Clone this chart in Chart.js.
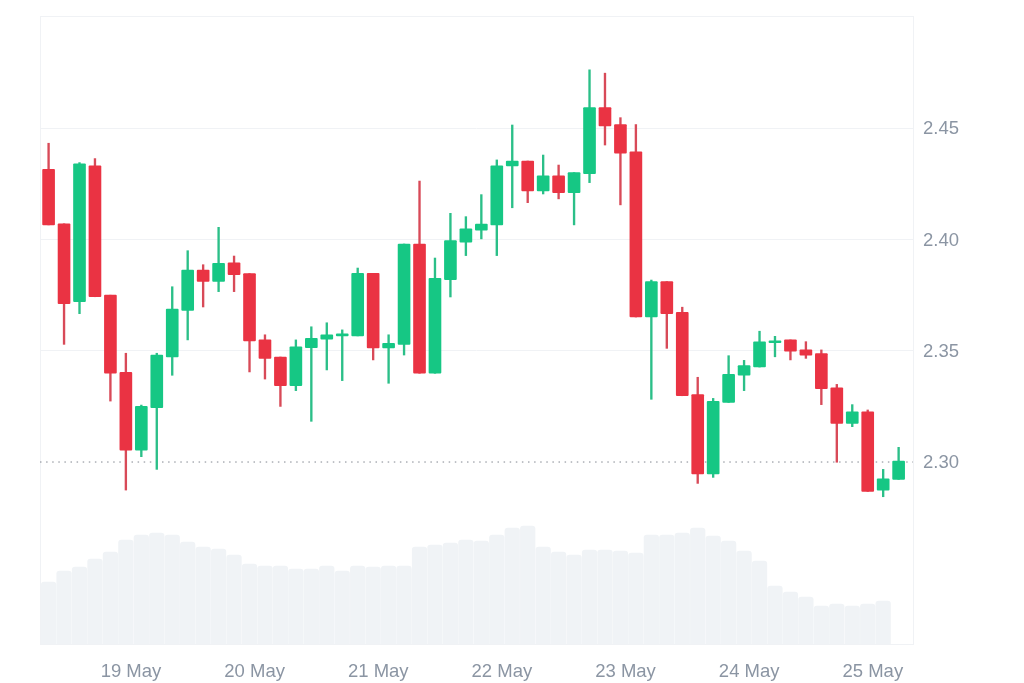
<!DOCTYPE html>
<html>
<head>
<meta charset="utf-8">
<style>
html,body{margin:0;padding:0;background:#fff;overflow:hidden;}
#wrap{width:1024px;height:683px;position:relative;}
canvas{display:block;}
</style>
<script src="https://cdn.jsdelivr.net/npm/chart.js@4/dist/chart.umd.min.js"></script>
</head>
<body>
<div id="wrap"><canvas id="c" width="1024" height="683"></canvas></div>
<script>
const opens=[2.4316,2.4071,2.3721,2.4332,2.3750,2.3403,2.3053,2.3244,2.3473,2.3682,2.3863,2.3812,2.3895,2.3847,2.3549,2.3472,2.3343,2.3514,2.3552,2.3567,2.3567,2.3848,2.3513,2.3529,2.3980,2.3399,2.3820,2.3988,2.4042,2.4066,2.4331,2.4353,2.4219,2.4286,2.4211,2.4296,2.4593,2.4517,2.4394,2.3652,2.3811,2.3673,2.3303,2.2946,2.3268,2.3390,2.3427,2.3536,2.3549,2.3504,2.3487,2.3334,2.3174,2.3226,2.2874,2.2922];
const closes=[2.4066,2.3712,2.4340,2.3743,2.3399,2.3053,2.3250,2.3481,2.3688,2.3863,2.3812,2.3893,2.3842,2.3544,2.3466,2.3343,2.3518,2.3556,2.3572,2.3576,2.3848,2.3513,2.3534,2.3980,2.3399,2.3826,2.3995,2.4048,2.4070,2.4331,2.4353,2.4219,2.4286,2.4211,2.4301,2.4593,2.4511,2.4388,2.3652,2.3811,2.3667,2.3298,2.2946,2.3273,2.3394,2.3433,2.3540,2.3545,2.3498,2.3480,2.3330,2.3174,2.3226,2.2868,2.2925,2.3004];
const highs=[2.4433,2.4071,2.4346,2.4364,2.3750,2.3489,2.3256,2.3489,2.3788,2.3950,2.3887,2.4055,2.3926,2.3847,2.3572,2.3472,2.3549,2.3608,2.3626,2.3594,2.3872,2.3848,2.3572,2.3980,2.4263,2.3917,2.4118,2.4103,2.4202,2.4358,2.4515,2.4353,2.4380,2.4335,2.4301,2.4763,2.4748,2.4548,2.4517,2.3818,2.3811,2.3696,2.3381,2.3286,2.3478,2.3457,2.3588,2.3565,2.3549,2.3541,2.3504,2.3349,2.3258,2.3234,2.2967,2.3066];
const lows=[2.4066,2.3529,2.3667,2.3743,2.3274,2.2874,2.3024,2.2967,2.3390,2.3549,2.3697,2.3766,2.3766,2.3405,2.3373,2.3250,2.3321,2.3183,2.3414,2.3366,2.3567,2.3459,2.3354,2.3481,2.3399,2.3399,2.3742,2.3928,2.4003,2.3928,2.4143,2.4166,2.4205,2.4183,2.4066,2.4256,2.4425,2.4156,2.3652,2.3282,2.3511,2.3298,2.2904,2.2931,2.3268,2.3321,2.3427,2.3473,2.3459,2.3466,2.3258,2.2999,2.3159,2.2868,2.2844,2.2922];
const volumes=[62,73,77,85,92,104,109,111,109,102,97,95,89,80,78,78,75,75,78,73,78,77,78,78,97,99,101,104,103,109,116,118,97,92,89,94,94,93,91,109,109,111,116,108,103,93,83,58,52,47,38,40,38,40,43];
const dayLabels=["19 May","20 May","21 May","22 May","23 May","24 May","25 May"];
const dayTicks=[5.33,13.33,21.33,29.33,37.33,45.33,53.33];
const priceTicks=[2.30,2.35,2.40,2.45];
const lastPrice=2.30;
const xMin=-0.556, xMax=55.93, priceMin=2.2182, priceMax=2.5005, volumeMax=628;

const UP="#16c784", DOWN="#ea3343", GRID="#f0f2f5", VOL="#f0f3f6", TXT="#8b95a3";
const colors=opens.map((o,i)=>closes[i]>=o?UP:DOWN);
const wickColors=opens.map((o,i)=>closes[i]>=o?"#2bbf88":"#d84a58");

const frame={id:"frame",beforeDatasetsDraw(ch){const a=ch.chartArea,c=ch.ctx;c.save();c.strokeStyle=GRID;c.lineWidth=1;c.strokeRect(a.left+.5,a.top+.5,a.width,a.height);c.restore();}};

new Chart(document.getElementById("c"),{
  type:"bar",
  data:{datasets:[
    {type:"bar",label:"Body",order:1,grouped:false,barThickness:12,borderRadius:1,borderSkipped:false,backgroundColor:colors,
     data:opens.map((o,i)=>({x:i,y:[o,closes[i]]}))},
    {type:"bar",label:"Wick",order:2,grouped:false,barThickness:1.7,backgroundColor:wickColors,
     data:lows.map((l,i)=>({x:i,y:[l,highs[i]]}))},
    {type:"line",label:"Last",order:3,borderColor:"#80868f",borderWidth:1,borderDash:[1.5,4.6],pointRadius:0,
     data:[{x:xMin,y:lastPrice},{x:xMax,y:lastPrice}]},
    {type:"bar",label:"Volume",order:4,grouped:false,yAxisID:"yVol",barThickness:14.6,borderRadius:{topLeft:3,topRight:3},borderSkipped:"bottom",backgroundColor:VOL,
     data:volumes.map((v,i)=>({x:i,y:v}))}
  ]},
  options:{
    responsive:false,animation:false,devicePixelRatio:1,
    layout:{autoPadding:false,padding:{left:40,top:16,right:0,bottom:0}},
    plugins:{legend:{display:false},tooltip:{enabled:false}},
    scales:{
      x:{type:"linear",offset:false,min:xMin,max:xMax,
        afterBuildTicks(s){s.ticks=dayTicks.map(v=>({value:v}));},
        afterFit(s){s.height=39;s.paddingLeft=0;s.paddingRight=0;},
        grid:{display:false},border:{display:false},
        ticks:{padding:9,autoSkip:false,maxRotation:0,color:TXT,font:{family:"Liberation Sans",size:18.5},
          callback(v,i){return dayLabels[i];}}},
      y:{position:"right",min:priceMin,max:priceMax,
        afterBuildTicks(s){s.ticks=priceTicks.map(v=>({value:v}));},
        afterFit(s){s.width=111;s.paddingTop=0;s.paddingBottom=0;},
        grid:{drawTicks:false,color(c){return c.tick&&c.tick.value===lastPrice?"rgba(0,0,0,0)":GRID;}},
        border:{display:false},
        ticks:{padding:10,labelOffset:1,color:TXT,font:{family:"Liberation Sans",size:18.5},callback(v){return v.toFixed(2);}}},
      yVol:{display:false,min:0,max:volumeMax}
    }
  },
  plugins:[frame]
});
</script>
</body>
</html>
